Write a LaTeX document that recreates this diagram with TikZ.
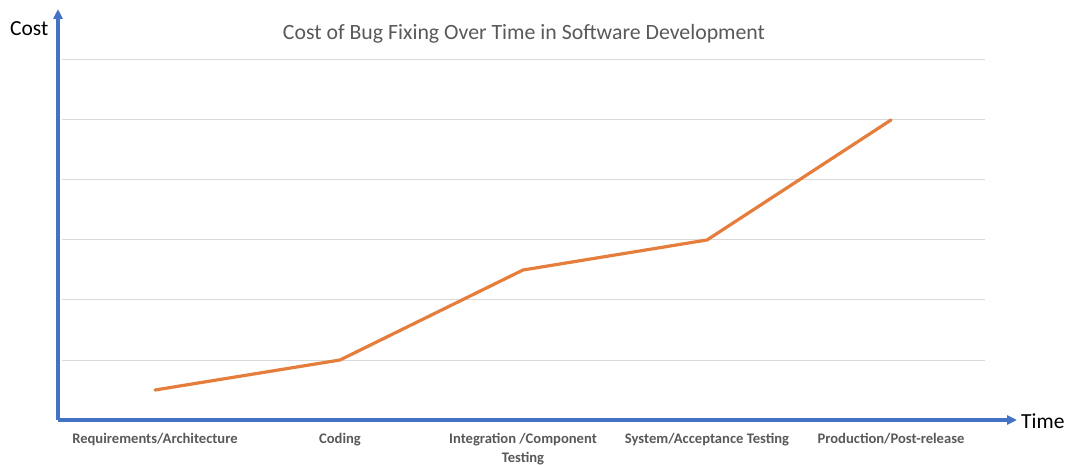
\documentclass[tikz,border=0pt]{standalone}
\usepackage{fontspec}
\setmainfont{Carlito}
\usetikzlibrary{arrows.meta}
\definecolor{axisblue}{HTML}{4472C4}
\definecolor{lineorange}{HTML}{E57E3C}
\definecolor{gridgray}{HTML}{D9D9D9}
\definecolor{textgray}{HTML}{595959}
\tikzset{
  axisline/.style={draw=axisblue, line width=3.2pt, -{Triangle[length=10pt,width=9pt]}},
  gridline/.style={draw=gridgray, line width=1pt},
  dataline/.style={draw=lineorange, line width=3.2pt, line join=round, line cap=round},
  catlabel/.style={font=\fontsize{14.6}{19}\selectfont\bfseries, text=textgray, align=center, anchor=north, inner sep=0pt},
  axlabel/.style={font=\fontsize{21.5}{24}\selectfont, text=black, inner sep=0pt},
}
\begin{document}
\begin{tikzpicture}[x=1pt,y=-1pt]
\useasboundingbox (0,0) rectangle (1069,465);
% grid
\foreach \yy in {60,120,180,240,300,360} {
  \draw[gridline] (62,\yy) -- (985,\yy);
}
% axes
\coordinate (origin) at (58,420);
\coordinate (ytip) at (58,9);
\coordinate (xtip) at (1017,420);
\draw[axisline] (origin) -- (ytip);
\draw[axisline] (origin) -- (xtip);
\node[axlabel, anchor=west] (cost) at (10,29) {Cost};
\node[axlabel, anchor=west] (time) at (1021,421) {Time};
% title
\node[font=\fontsize{21.8}{24}\selectfont, text=textgray, inner sep=0pt] (title) at (524,34) {Cost of Bug Fixing Over Time in Software Development};
% data
\coordinate (p1) at (155,390);
\coordinate (p2) at (340,360);
\coordinate (p3) at (523,270);
\coordinate (p4) at (707,240);
\coordinate (p5) at (891,120);
\draw[dataline] (p1) -- (p2) -- (p3) -- (p4) -- (p5);
% category labels
\node[catlabel] (c1) at (155,433) {Requirements/Architecture};
\node[catlabel] (c2) at (340,433) {Coding};
\node[catlabel] (c3) at (523,433) {Integration /Component\\Testing};
\node[catlabel] (c4) at (707,433) {System/Acceptance Testing};
\node[catlabel] (c5) at (891,433) {Production/Post-release};
\end{tikzpicture}
\end{document}
